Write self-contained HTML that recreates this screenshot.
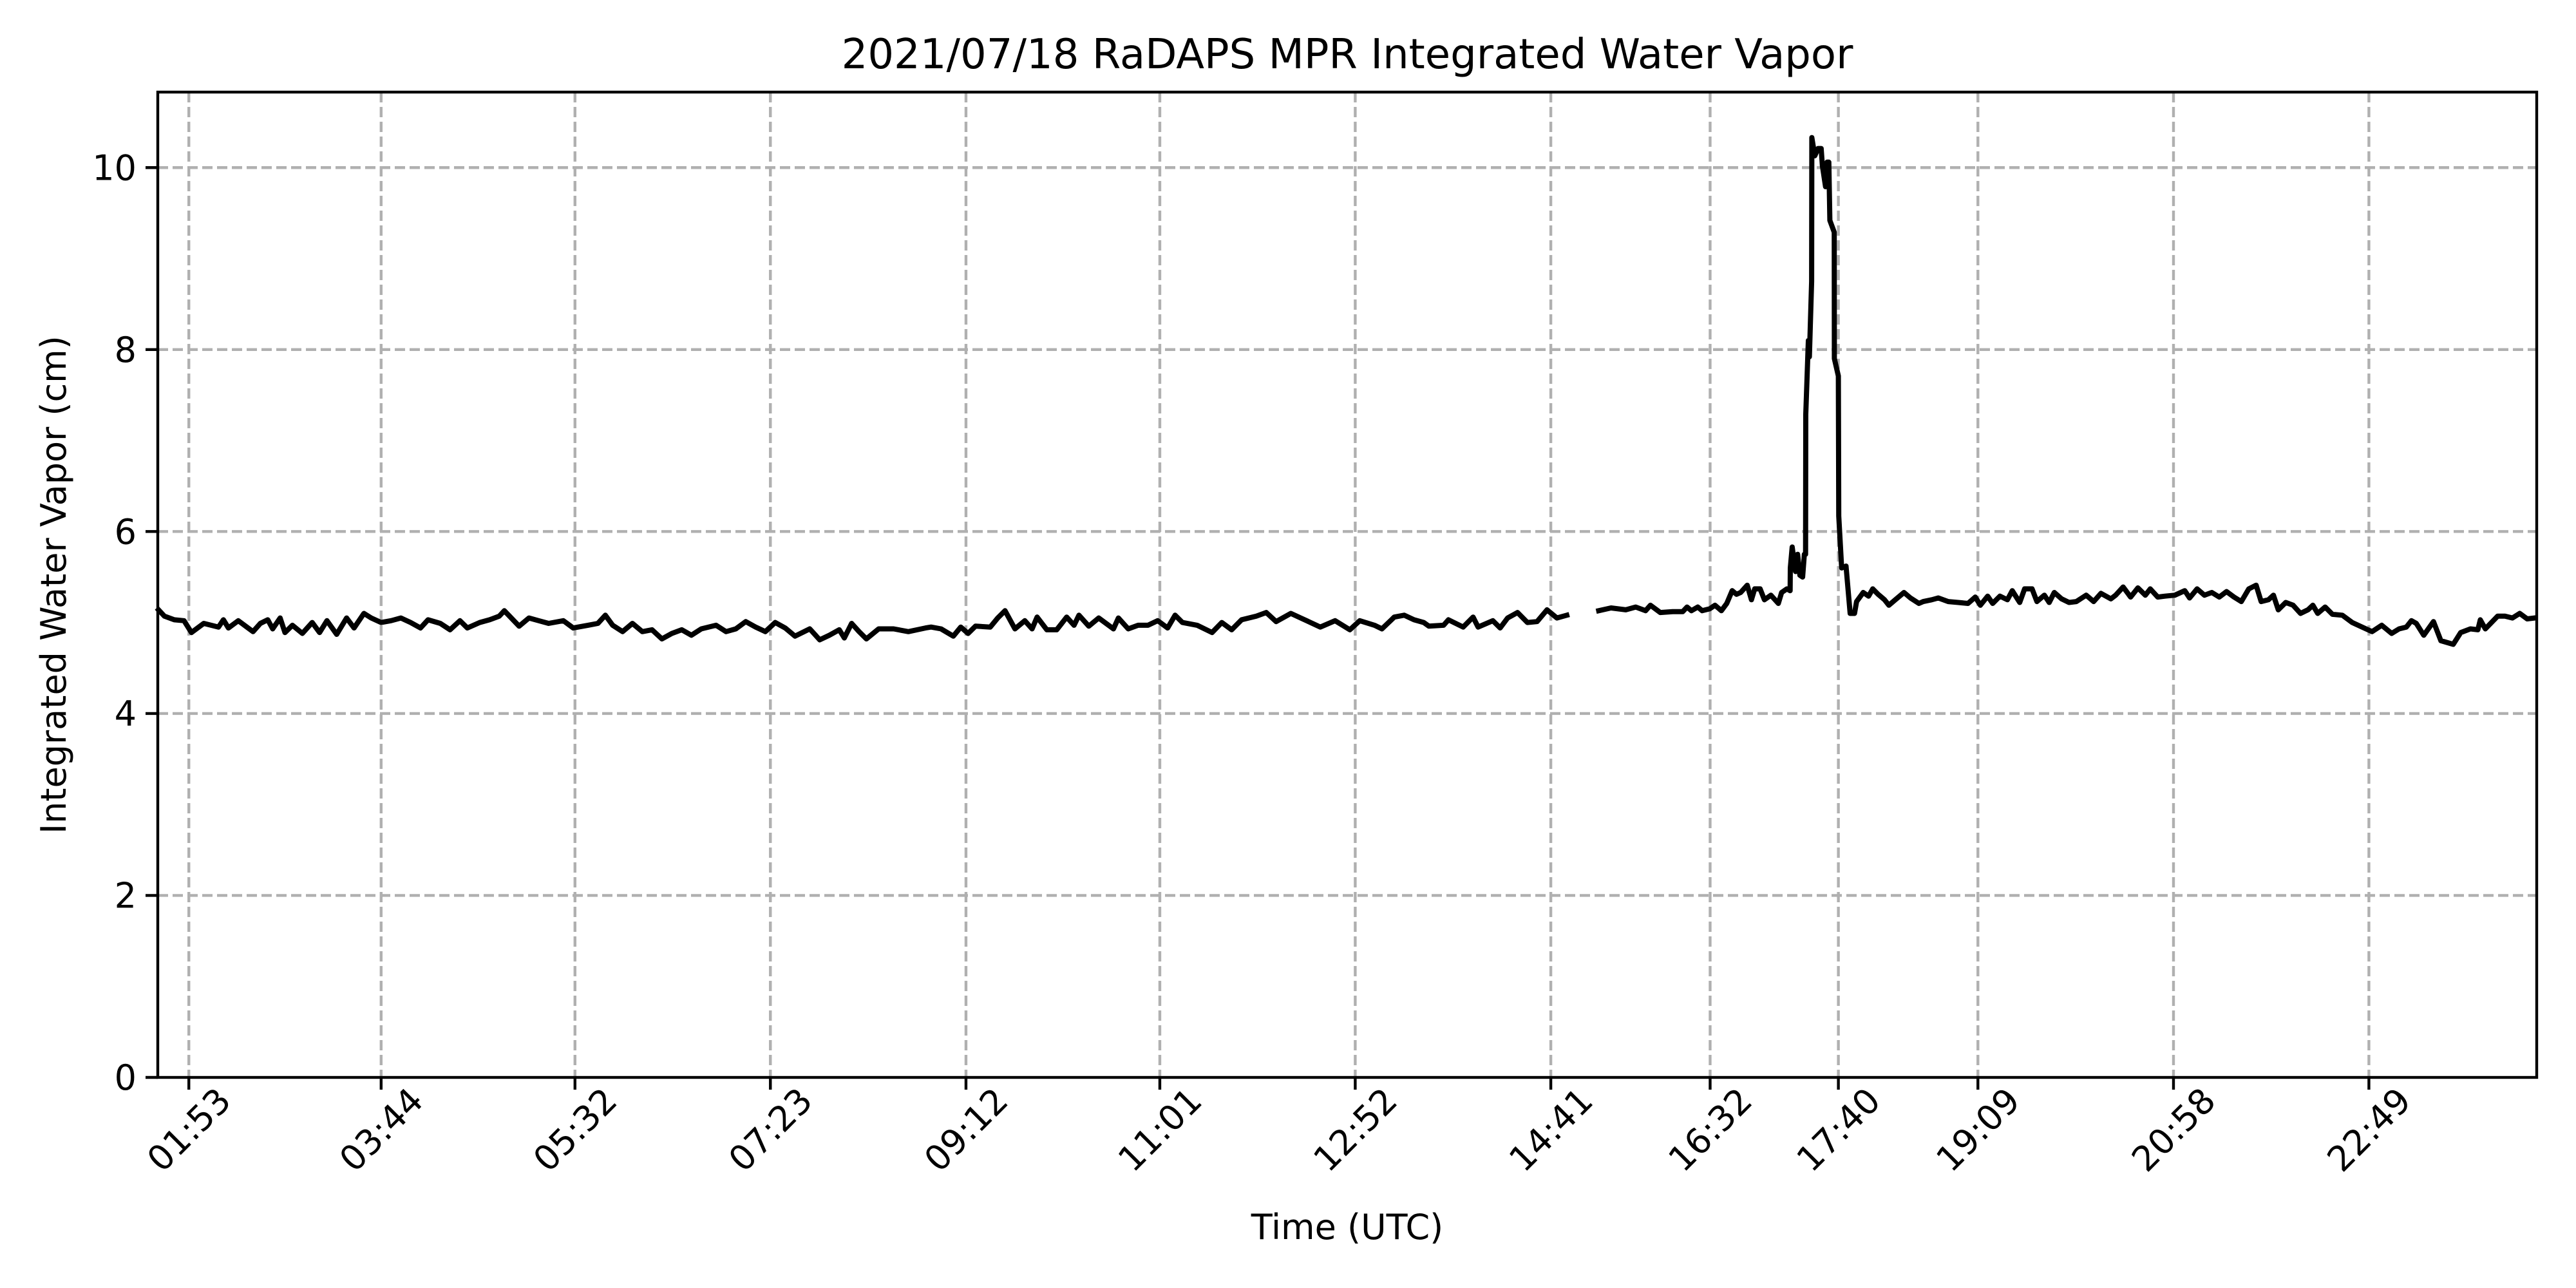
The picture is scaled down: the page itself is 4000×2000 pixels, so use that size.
<!DOCTYPE html>
<html><head><meta charset="utf-8"><style>
html,body{margin:0;padding:0;background:#fff;}
svg{display:block;font-family:"DejaVu Sans","Liberation Sans",sans-serif;}
</style></head><body>
<svg id="chart" width="4000" height="2000" viewBox="0 0 4000 2000" xmlns="http://www.w3.org/2000/svg">
<rect width="4000" height="2000" fill="#fff"/>
<g id="grid"></g>
<g id="series"></g>
<rect x="245" y="143" width="3694" height="1530" fill="none" stroke="#000" stroke-width="4.4"/>
<g id="axes"></g>
<text x="2092" y="106" font-size="64" text-anchor="middle">2021/07/18 RaDAPS MPR Integrated Water Vapor</text>
<text x="2092" y="1924" font-size="54" text-anchor="middle">Time (UTC)</text>
<text x="0" y="0" font-size="54" text-anchor="middle" transform="translate(102,908) rotate(-90)">Integrated Water Vapor (cm)</text>
</svg>
<script>
const xTickLabels = ["01:53","03:44","05:32","07:23","09:12","11:01","12:52","14:41","16:32","17:40","19:09","20:58","22:49"];
const xTickValues = [113.1,223.9,335.6,448.2,560.9,672.6,785.2,897.9,989.7,1063.6,1144.0,1256.7,1369.3];
const yTicks = [0,2,4,6,8,10];
const times = [95.6,99.0,104.7,110.3,114.6,121.7,130.2,133.0,135.9,141.6,150.1,154.3,158.6,161.4,165.7,168.5,172.8,178.5,184.2,188.4,192.7,198.3,204.0,208.3,214.0,218.2,223.9,229.6,235.3,240.9,246.6,250.9,258.0,263.6,269.3,273.6,280.7,286.4,292.0,294.9,303.4,309.1,314.7,320.4,328.9,334.6,343.1,348.8,353.1,357.3,363.0,368.7,374.4,380.0,385.7,391.4,397.1,402.7,408.4,416.9,422.6,428.3,434.0,439.7,445.3,451.0,456.7,462.4,470.9,476.6,482.2,487.9,490.8,495.0,499.3,503.5,510.6,519.2,527.7,537.6,
540.8,546.5,553.6,557.9,562.1,566.4,574.9,579.2,583.4,589.1,594.8,599.0,601.9,607.5,613.2,618.9,623.2,626.0,631.7,637.4,645.9,648.7,654.4,660.1,665.8,671.4,677.1,681.4,685.6,694.1,702.7,708.3,714.0,719.7,728.2,733.9,739.6,748.1,753.8,759.4,765.1,773.6,782.1,787.8,796.3,800.6,807.7,813.4,819.1,824.7,827.6,836.1,838.9,847.4,853.1,856.0,864.5,868.7,873.0,878.7,884.4,890.0,895.7,901.4,907.1,916.0,925.5,932.6,941.1,946.8,952.5,955.3,961.0,968.1,
973.9,976.4,978.9,982.6,985.1,989.4,992.5,996.2,999.3,1002.4,1004.9,1007.3,1011.1,1013.5,1015.4,1018.5,1021.0,1024.7,1029.0,1030.9,1033.9,1035.8,1035.9,1037.0,1038.9,1040.1,1041.4,1043.0,1044.0,1044.7,1044.8,1046.3,1046.9,1048.2,1048.3,1050.0,1051.9,1053.7,1054.4,1056.2,1057.1,1058.1,1058.7,1061.2,1061.3,1063.6,1063.8,1065.5,1068.0,1070.4,1072.9,1074.1,1077.9,1081.0,1083.4,1086.5,1090.2,1092.7,1096.4,1101.4,1105.1,1110.0,1112.5,1117.4,
1121.2,1126.9,1132.6,1138.3,1142.5,1145.4,1149.6,1152.5,1156.7,1161.0,1163.8,1168.1,1170.9,1175.2,1178.0,1182.3,1185.1,1188.0,1192.2,1196.5,1200.7,1206.4,1210.7,1214.9,1220.6,1223.4,1227.7,1232.0,1236.2,1240.5,1243.3,1247.6,1251.8,1257.5,1263.2,1266.0,1270.3,1274.5,1278.8,1283.1,1287.3,1291.6,1295.8,1300.1,1304.3,1307.2,1311.4,1314.3,1317.1,1321.4,1325.6,1329.9,1334.2,1337.0,1339.8,1344.1,1348.3,1354.0,1359.7,1365.4,1371.1,1376.7,1382.4,1386.7,1390.9,1393.8,1396.6,1400.9,1406.5,1410.8,1417.9,1422.2,1427.8,1432.1,1433.5,1436.4,1443.5,1447.7,1452.0,1456.2,1460.5,1464.7];
const iwv = [5.14,5.07,5.03,5.02,4.89,4.99,4.95,5.03,4.94,5.02,4.90,4.99,5.03,4.93,5.05,4.89,4.97,4.88,5.00,4.89,5.02,4.87,5.05,4.94,5.10,5.05,5.00,5.02,5.05,5.00,4.94,5.03,4.99,4.92,5.02,4.94,5.00,5.03,5.07,5.13,4.96,5.05,5.02,4.99,5.02,4.94,4.97,4.99,5.08,4.97,4.90,4.99,4.90,4.92,4.82,4.88,4.92,4.86,4.93,4.97,4.90,4.93,5.01,4.95,4.90,5.00,4.94,4.85,4.93,4.81,4.86,4.92,4.83,4.99,4.90,4.82,4.93,4.93,4.90,4.94,
4.95,4.93,4.85,4.95,4.88,4.96,4.95,5.05,5.13,4.93,5.02,4.93,5.06,4.92,4.92,5.06,4.97,5.08,4.96,5.05,4.93,5.05,4.93,4.97,4.97,5.02,4.94,5.08,5.00,4.97,4.89,5.00,4.92,5.03,5.07,5.11,5.01,5.10,5.05,5.00,4.95,5.02,4.92,5.02,4.97,4.93,5.06,5.08,5.03,5.00,4.96,4.97,5.03,4.95,5.06,4.95,5.02,4.94,5.05,5.11,5.00,5.01,5.14,5.05,5.08,null,5.13,5.16,5.14,5.17,5.13,5.19,5.11,5.12,
5.12,5.17,5.13,5.17,5.13,5.15,5.19,5.13,5.21,5.35,5.31,5.33,5.41,5.25,5.37,5.37,5.25,5.30,5.21,5.33,5.37,5.35,5.60,5.83,5.56,5.75,5.52,5.50,5.75,5.75,7.29,8.10,7.92,8.75,10.33,10.13,10.21,10.21,10.02,9.79,10.06,10.06,9.42,9.29,7.90,7.71,6.17,5.60,5.62,5.10,5.10,5.23,5.33,5.29,5.37,5.31,5.25,5.19,5.25,5.33,5.27,5.21,5.23,5.25,
5.27,5.23,5.22,5.21,5.28,5.19,5.29,5.21,5.29,5.25,5.35,5.22,5.37,5.37,5.23,5.30,5.22,5.33,5.26,5.22,5.23,5.30,5.23,5.32,5.26,5.30,5.39,5.28,5.38,5.30,5.37,5.28,5.29,5.30,5.35,5.27,5.37,5.30,5.33,5.28,5.34,5.28,5.23,5.37,5.41,5.23,5.25,5.30,5.14,5.22,5.19,5.10,5.14,5.19,5.10,5.17,5.09,5.08,5.00,4.95,4.90,4.97,4.88,4.93,4.95,5.02,4.99,4.86,5.01,4.80,4.76,4.89,4.93,4.92,5.03,4.93,5.07,5.07,5.05,5.10,5.04,5.05];

const NS = "http://www.w3.org/2000/svg";
const X0 = 245, X1 = 3939, Y0 = 1673, Y1 = 143;
const tMin = 95.2, tMax = 1466, vMin = 0, vMax = 10.83;
function xScale(t){ return X0 + (t - tMin) / (tMax - tMin) * (X1 - X0); }
function yScale(v){ return Y0 - (v - vMin) / (vMax - vMin) * (Y0 - Y1); }
function mk(tag, attrs){ const e = document.createElementNS(NS, tag); for (const k in attrs) e.setAttribute(k, attrs[k]); return e; }

const grid = document.getElementById("grid");
const axes = document.getElementById("axes");
const series = document.getElementById("series");

xTickLabels.forEach((lbl, i) => {
  const x = xScale(xTickValues[i]);
  const g = mk("line", {x1: x, x2: x, y1: Y1, y2: Y0, stroke: "#b0b0b0", "stroke-width": 4.4, "stroke-dasharray": "16,7"});
  
  
  grid.appendChild(g);
  const tk = mk("line", {x1: x, x2: x, y1: Y0, y2: Y0 + 19, stroke: "#000", "stroke-width": 4.4});
  
  
  axes.appendChild(tk);
  const t = mk("text", {x: 0, y: 19, "font-size": 54, "text-anchor": "middle", transform: "translate(" + x + ",1754) rotate(-45)"});
  t.textContent = lbl;
  
  
  axes.appendChild(t);
});

yTicks.forEach(v => {
  const y = yScale(v);
  if (v > 0) {
    const g = mk("line", {x1: X0, x2: X1, y1: y, y2: y, stroke: "#b0b0b0", "stroke-width": 4.4, "stroke-dasharray": "16,7"});
    
    
    grid.appendChild(g);
  }
  const tk = mk("line", {x1: X0 - 19, x2: X0, y1: y, y2: y, stroke: "#000", "stroke-width": 4.4});
  
  
  axes.appendChild(tk);
  const t = mk("text", {x: X0 - 33, y: y + 19, "font-size": 54, "text-anchor": "end"});
  t.textContent = String(v);
  
  
  axes.appendChild(t);
});

let d = "", pen = false;
for (let i = 0; i < times.length; i++) {
  if (iwv[i] === null) { pen = false; continue; }
  const x = xScale(times[i]).toFixed(1), y = yScale(iwv[i]).toFixed(1);
  d += (pen ? "L" : "M") + x + "," + y;
  pen = true;
}
const line = mk("path", {d: d, fill: "none", stroke: "#000", "stroke-width": 8, "stroke-linejoin": "round", "stroke-linecap": "square"});


series.appendChild(line);
</script>
</body></html>
